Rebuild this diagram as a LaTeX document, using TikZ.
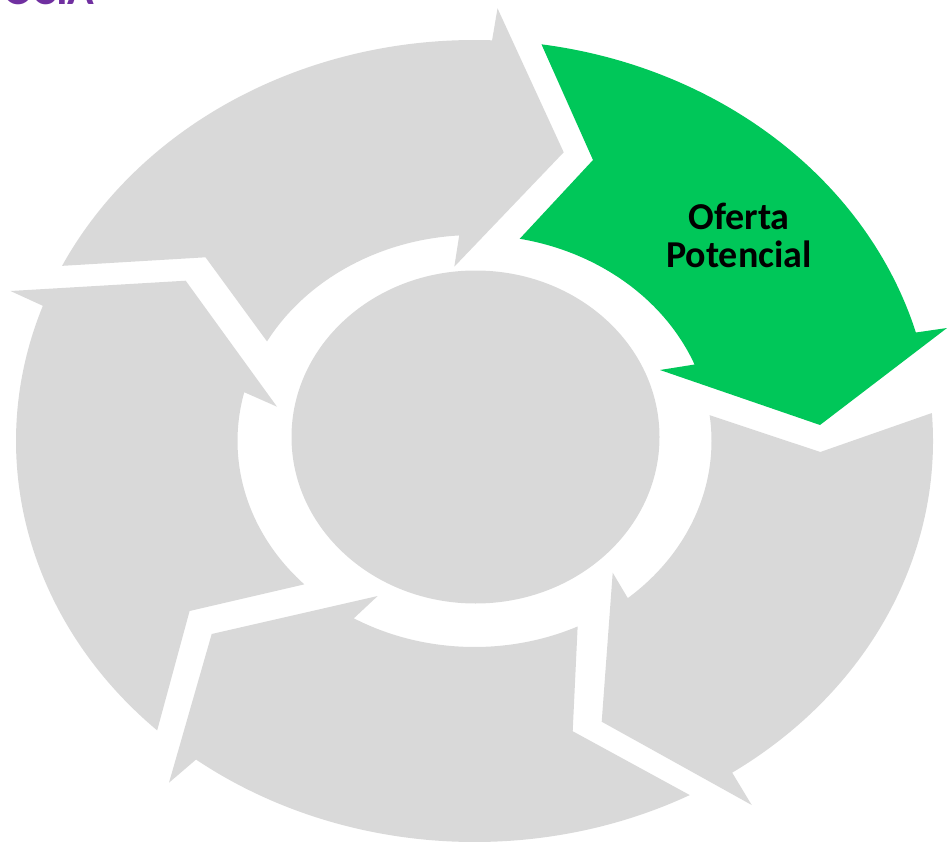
\documentclass[tikz,border=0pt]{standalone}
\usepackage{fontspec}
\newfontfamily\labelfont{Carlito}
\definecolor{ringgray}{RGB}{217,217,217}
\definecolor{offergreen}{RGB}{0,199,89}
\definecolor{titlepurple}{RGB}{112,48,160}
\tikzstyle{segment} = [fill=ringgray]
\tikzstyle{ringout} = [x radius=458.5, y radius=401]
\tikzstyle{ringin} = [x radius=237, y radius=206]
\tikzstyle{steplabel} = [align=center, inner sep=0pt, font=\labelfont\bfseries\fontsize{38}{38}\selectfont]

\begin{document}
\begin{tikzpicture}[x=1pt, y=-1pt]
    \useasboundingbox (0,0) rectangle (947,842);
    \coordinate (c) at (474.5,441);
    \coordinate (hub) at (475.5,437);

    % Title, cut by the top edge
    \begin{scope}
        \clip (0,0) rectangle (947,842);
        \node[anchor=base west, inner sep=0pt, text=titlepurple, font=\labelfont\bfseries\fontsize{44}{44}\selectfont] (title) at (3,5) {OCIA};
    \end{scope}

    % Top arrow
    \fill[segment] ([shift={(-154.1:458.5 and 401)}]c) arc[ringout, start angle=-154.1, end angle=-87.8]
        -- (497.5,8.3) -- (563.7,152.3) -- (454.3,266.7)
        -- ([shift={(-93.7:237 and 206)}]c) arc[ringin, start angle=-93.7, end angle=-151.1]
        -- (205.5,257.3) -- cycle;

    % Green arrow
    \fill[offergreen] ([shift={(-81.6:458.5 and 401)}]c) arc[ringout, start angle=-81.6, end angle=-15.7]
        -- (947,328) -- (820,425) -- (660,370)
        -- ([shift={(-21.8:237 and 206)}]c) arc[ringin, start angle=-21.8, end angle=-79]
        -- (593,160) -- cycle;

    % Right arrow
    \fill[segment] ([shift={(-4:458.5 and 401)}]c) arc[ringout, start angle=-4, end angle=55.8]
        -- (751.7,805) -- (601.7,721.7) -- (612.7,572.7)
        -- ([shift={(49.7:237 and 206)}]c) arc[ringin, start angle=49.7, end angle=-7.2]
        -- (820.3,452) -- cycle;

    % Bottom arrow
    \fill[segment] ([shift={(62:458.5 and 401)}]c) arc[ringout, start angle=62, end angle=127.4]
        -- (169,782.7) -- (211.7,634) -- (377.7,596)
        -- ([shift={(120.6:237 and 206)}]c) arc[ringin, start angle=120.6, end angle=64.2]
        -- (572.7,731.2) -- cycle;

    % Left arrow
    \fill[segment] ([shift={(133.8:458.5 and 401)}]c) arc[ringout, start angle=133.8, end angle=199.7]
        -- (10.5,291) -- (185.7,280.7) -- (277,406.7)
        -- ([shift={(193.7:237 and 206)}]c) arc[ringin, start angle=193.7, end angle=135.9]
        -- (189.6,611) -- cycle;

    % Hub
    \fill[segment] (hub) ellipse[x radius=184, y radius=166.5];

    \node[steplabel] (oferta) at (739,235.5) {Oferta\\Potencial};
\end{tikzpicture}
\end{document}
